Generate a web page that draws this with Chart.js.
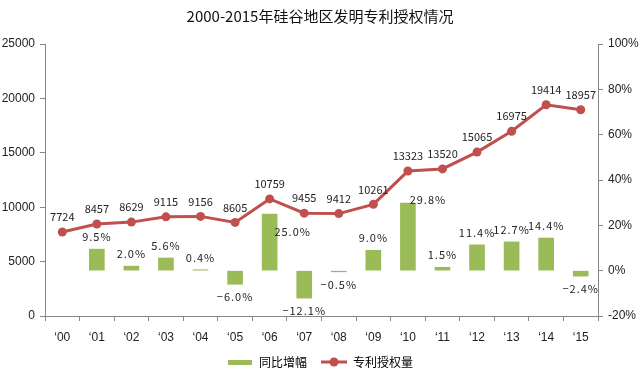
<!DOCTYPE html>
<html>
<head>
<meta charset="utf-8">
<script src="https://cdn.jsdelivr.net/npm/chart.js@4"></script>
<style>
html,body{margin:0;padding:0;background:#fff;}
#wrap{width:640px;height:378px;position:relative;}
</style>
</head>
<body>
<div id="wrap"><canvas id="c" width="640" height="378"></canvas></div>
<script>
// ---- data ----
const years = ['\u201800','\u201801','\u201802','\u201803','\u201804','\u201805','\u201806','\u201807','\u201808','\u201809','\u201810','\u201811','\u201812','\u201813','\u201814','\u201815'];
const grants = [7724, 8457, 8629, 9115, 9156, 8605, 10759, 9455, 9412, 10261, 13323, 13520, 15065, 16975, 19414, 18957];
const yoyGrowth = [null, 9.5, 2.0, 5.6, 0.4, -6.0, 25.0, -12.1, -0.5, 9.0, 29.8, 1.5, 11.4, 12.7, 14.4, -2.4];
const leftTicks = [0, 5000, 10000, 15000, 20000, 25000];
const rightTicks = [-20, 0, 20, 40, 60, 80, 100];
const titleText = '2000-2015年硅谷地区发明专利授权情况';
const barName = '同比增幅';
const lineName = '专利授权量';

// ---- styles ----
const GREEN = '#9BBB59';
const RED = '#C0504D';
const AXIS = '#868686';
const CJK = '"Noto Sans CJK SC", "Noto Sans", sans-serif';
const LAT = '"Liberation Sans", Arial, sans-serif';
// label placement overrides for a few bar labels (dx, dy from bar top)
const barLabelSide = {6: [23, 18], 10: [20, -3]};

function legendIcon(kind) {
  const cv = document.createElement('canvas');
  cv.width = 26; cv.height = 12;
  const g = cv.getContext('2d');
  if (kind === 'bar') {
    g.fillStyle = GREEN;
    g.fillRect(1, 4, 24, 5);
  } else {
    g.strokeStyle = RED; g.lineWidth = 3;
    g.beginPath(); g.moveTo(0, 6); g.lineTo(26, 6); g.stroke();
    g.fillStyle = RED;
    g.beginPath(); g.arc(13, 6, 4.5, 0, Math.PI * 2); g.fill();
  }
  return cv;
}

const labelPlugin = {
  id: 'dataLabels',
  afterDatasetsDraw(chart) {
    const ctx = chart.ctx;
    ctx.save();
    ctx.fillStyle = '#222';
    ctx.textAlign = 'center';
    ctx.textBaseline = 'middle';
    // line labels
    const lm = chart.getDatasetMeta(1);
    ctx.font = '11px ' + CJK;
    lm.data.forEach((pt, i) => {
      ctx.fillText(String(grants[i]), pt.x, pt.y - 15);
    });
    // bar labels
    const bm = chart.getDatasetMeta(0);
    ctx.font = '11px ' + CJK;
    if ('letterSpacing' in ctx) ctx.letterSpacing = '1px';
    bm.data.forEach((bar, i) => {
      const v = yoyGrowth[i];
      if (v === null || v === undefined) return;
      const txt = (v < 0 ? '\u2212' : '') + Math.abs(v).toFixed(1) + '%';
      if (barLabelSide[i]) {
        const [dx, dy] = barLabelSide[i];
        ctx.fillText(txt, bar.x + dx, bar.y + dy);
      } else if (v >= 0) {
        ctx.fillText(txt, bar.x, Math.min(bar.y, bar.base) - 12);
      } else {
        ctx.fillText(txt, bar.x, Math.max(bar.y, bar.base) + 13);
      }
    });
    ctx.restore();
  }
};

new Chart(document.getElementById('c'), {
  type: 'bar',
  data: {
    labels: years,
    datasets: [
      {
        type: 'bar',
        label: barName,
        data: yoyGrowth,
        yAxisID: 'yR',
        backgroundColor: GREEN,
        borderWidth: 0,
        barThickness: 15,
        order: 2
      },
      {
        type: 'line',
        label: lineName,
        data: grants,
        yAxisID: 'yL',
        borderColor: RED,
        backgroundColor: RED,
        borderWidth: 3,
        pointRadius: 4.5,
        pointBackgroundColor: RED,
        pointBorderColor: RED,
        pointBorderWidth: 0,
        tension: 0,
        order: 1
      }
    ]
  },
  options: {
    responsive: false,
    animation: false,
    devicePixelRatio: 1,
    layout: {padding: {left: 0, right: 0, top: 0, bottom: 0}},
    plugins: {
      tooltip: {enabled: false},
      title: {
        display: true,
        text: titleText,
        color: '#111',
        font: {family: CJK, size: 15, weight: 'normal', lineHeight: 1.2},
        padding: {top: 7, bottom: 19}
      },
      legend: {
        display: true,
        position: 'bottom',
        labels: {
          font: {family: CJK, size: 12},
          color: '#111',
          usePointStyle: true,
          pointStyleWidth: 26,
          padding: 14,
          generateLabels() {
            return [
              {text: barName, pointStyle: legendIcon('bar'), fillStyle: GREEN, strokeStyle: GREEN, lineWidth: 0, datasetIndex: 0, hidden: false},
              {text: lineName, pointStyle: legendIcon('line'), fillStyle: RED, strokeStyle: RED, lineWidth: 0, datasetIndex: 1, hidden: false}
            ];
          }
        }
      }
    },
    scales: {
      x: {
        offset: true,
        grid: {display: true, offset: true, drawOnChartArea: false, drawTicks: true, tickLength: 5, color: AXIS},
        border: {display: true, color: AXIS, width: 1},
        ticks: {color: '#222', font: {family: LAT, size: 12}, padding: 9, maxRotation: 0, autoSkip: false},
        afterFit(s) { s.height = 26; }
      },
      yL: {
        position: 'left',
        min: leftTicks[0],
        max: leftTicks[leftTicks.length - 1],
        afterBuildTicks(s) { s.ticks = leftTicks.map(v => ({value: v})); },
        grid: {display: true, drawOnChartArea: false, drawTicks: true, tickLength: 5, color: AXIS},
        border: {display: true, color: AXIS, width: 1},
        ticks: {color: '#222', font: {family: LAT, size: 12}, padding: 5, callback: v => String(v)},
        afterFit(s) { s.width = 45; }
      },
      yR: {
        position: 'right',
        min: rightTicks[0],
        max: rightTicks[rightTicks.length - 1],
        afterBuildTicks(s) { s.ticks = rightTicks.map(v => ({value: v})); },
        grid: {display: true, drawOnChartArea: false, drawTicks: true, tickLength: 5, color: AXIS},
        border: {display: true, color: AXIS, width: 1},
        ticks: {color: '#222', font: {family: LAT, size: 12}, padding: 5, callback: v => v + '%'},
        afterFit(s) { s.width = 42; }
      }
    }
  },
  plugins: [labelPlugin]
});
</script>
</body>
</html>
